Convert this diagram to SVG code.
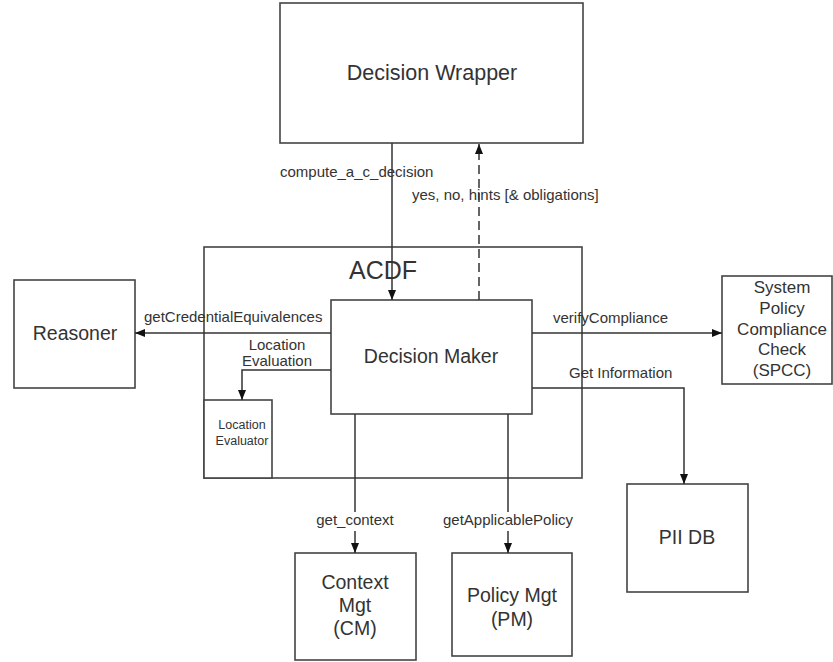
<svg xmlns="http://www.w3.org/2000/svg" width="833" height="662" viewBox="0 0 833 662">
<defs>
<marker id="arr" markerUnits="userSpaceOnUse" markerWidth="10" markerHeight="10" viewBox="0 0 10 10" refX="10" refY="5" orient="auto">
<path d="M0,1 L10,5 L0,9 Z" fill="#111"/>
</marker>
<style>
.box{fill:#fff;stroke:#444;stroke-width:1.6}
.frame{fill:none;stroke:#444;stroke-width:1.6}
.ln{fill:none;stroke:#333;stroke-width:1.5}
.dash{stroke-dasharray:9 5}
text{font-family:"Liberation Sans",Arial,sans-serif;fill:#333}
.lbl{font-size:15px}
.big{font-size:19.5px;text-anchor:middle}
.mid{text-anchor:middle}
</style>
</defs>
<rect width="833" height="662" fill="#fff"/>

<g id="acdf">
<rect class="frame" x="204" y="247" width="378" height="231"/>
<text x="349" y="279" font-size="25">ACDF</text>
</g>

<g id="decision-wrapper">
<rect class="box" x="280" y="3" width="303" height="140"/>
<text class="mid" x="432" y="80" font-size="21.5">Decision Wrapper</text>
</g>

<g id="reasoner">
<rect class="box" x="14" y="280" width="121" height="108"/>
<text class="big" x="75" y="340">Reasoner</text>
</g>

<g id="decision-maker">
<rect class="box" x="331" y="300" width="201" height="114"/>
<text class="big" x="431" y="363">Decision Maker</text>
</g>

<g id="location-evaluator">
<rect class="box" x="204" y="400" width="68" height="78"/>
<text class="mid" x="242" y="429" font-size="12.5">Location</text>
<text class="mid" x="242" y="445" font-size="12.5">Evaluator</text>
</g>

<g id="spcc">
<rect class="box" x="722" y="276" width="110" height="108"/>
<text class="mid" x="782" y="293" font-size="17">System</text>
<text class="mid" x="782" y="314" font-size="17">Policy</text>
<text class="mid" x="782" y="335" font-size="17">Compliance</text>
<text class="mid" x="782" y="355" font-size="17">Check</text>
<text class="mid" x="782" y="376" font-size="17">(SPCC)</text>
</g>

<g id="pii-db">
<rect class="box" x="627" y="484" width="121" height="108"/>
<text class="big" x="687" y="544">PII DB</text>
</g>

<g id="context-mgt">
<rect class="box" x="295" y="553" width="121" height="107"/>
<text class="big" x="355" y="589">Context</text>
<text class="big" x="355" y="612">Mgt</text>
<text class="big" x="355" y="635">(CM)</text>
</g>

<g id="policy-mgt">
<rect class="box" x="452" y="553" width="120" height="103"/>
<text class="big" x="512" y="602">Policy Mgt</text>
<text class="big" x="512" y="626">(PM)</text>
</g>

<g id="connectors">
<line class="ln" x1="392" y1="143" x2="392" y2="300" marker-end="url(#arr)"/>
<line class="ln dash" x1="479" y1="300" x2="479" y2="144" marker-end="url(#arr)"/>
<line class="ln" x1="331" y1="333" x2="135" y2="333" marker-end="url(#arr)"/>
<polyline class="ln" points="331,370 242,370 242,400" marker-end="url(#arr)"/>
<line class="ln" x1="532" y1="333" x2="722" y2="333" marker-end="url(#arr)"/>
<polyline class="ln" points="532,388 684,388 684,484" marker-end="url(#arr)"/>
<line class="ln" x1="355" y1="414" x2="355" y2="512"/>
<line class="ln" x1="355" y1="531" x2="355" y2="553" marker-end="url(#arr)"/>
<line class="ln" x1="508" y1="414" x2="508" y2="512"/>
<line class="ln" x1="508" y1="531" x2="508" y2="553" marker-end="url(#arr)"/>
<text class="lbl" x="280" y="177">compute_a_c_decision</text>
<text class="lbl" x="412" y="200">yes, no, hints [&amp; obligations]</text>
<text class="lbl" x="144" y="322">getCredentialEquivalences</text>
<text class="lbl mid" x="277" y="350">Location</text>
<text class="lbl mid" x="277" y="366">Evaluation</text>
<text class="lbl" x="553" y="323">verifyCompliance</text>
<text class="lbl" x="569" y="378">Get Information</text>
<text class="lbl mid" x="355" y="525">get_context</text>
<text class="lbl" x="443" y="525">getApplicablePolicy</text>
</g>
</svg>
